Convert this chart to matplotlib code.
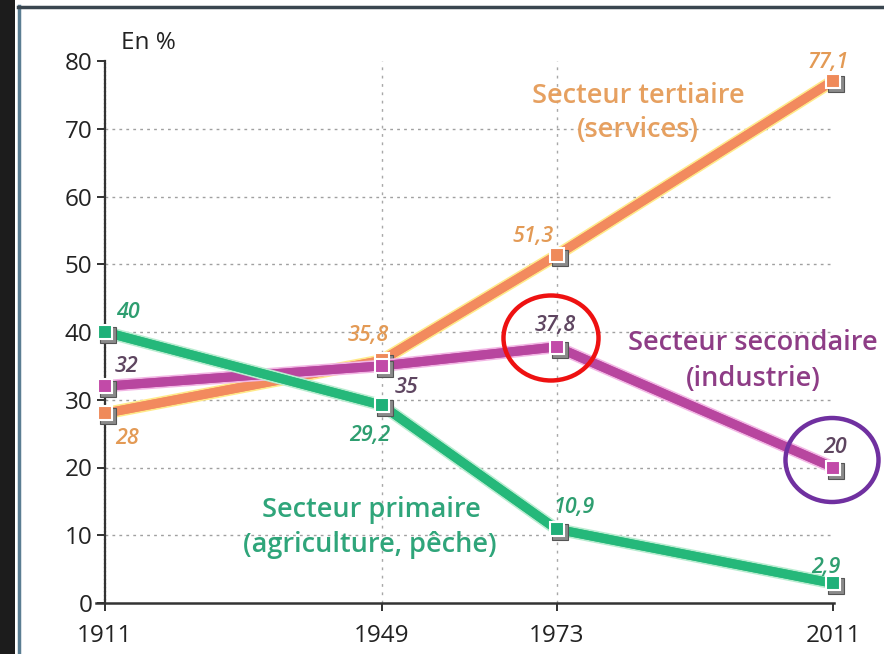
import matplotlib
matplotlib.use("Agg")
import matplotlib.pyplot as plt
import matplotlib.patheffects as pe
from matplotlib.patches import Ellipse, Rectangle
from matplotlib.lines import Line2D
import matplotlib.transforms as mtransforms

years = [1911, 1949, 1973, 2011]
primaire = [40, 29.2, 10.9, 2.9]
secondaire = [32, 35, 37.8, 20]
tertiaire = [28, 35.8, 51.3, 77.1]
yticks = [0, 10, 20, 30, 40, 50, 60, 70, 80]
labels_primaire = ["40", "29,2", "10,9", "2,9"]
labels_secondaire = ["32", "35", "37,8", "20"]
labels_tertiaire = ["28", "35,8", "51,3", "77,1"]

plt.rcParams['font.family'] = ['Open Sans', 'DejaVu Sans']

fig = plt.figure(figsize=(8.84, 6.54), dpi=100)
W, H = 884, 654

# frame decoration
fig.patches.append(Rectangle((0, 0), 15 / W, 1, transform=fig.transFigure,
                             facecolor='#1c1c1c', edgecolor='none', zorder=0))
fig.add_artist(Line2D([19 / W, 19 / W], [0, 1 - 6 / H], transform=fig.transFigure,
                      color='#5a7d92', lw=2.5))
fig.add_artist(Line2D([18 / W, 1], [1 - 7 / H, 1 - 7 / H], transform=fig.transFigure,
                      color='#3a4650', lw=2.5))

x0px, x1px = 95.5, 834
y0px, y1px = 603, 61
ax = fig.add_axes([x0px / W, 1 - y0px / H, (x1px - x0px) / W, (y0px - y1px) / H])
ax.set_xlim(1909.7, 2011.1)
ax.set_ylim(0, 80)
ax.patch.set_alpha(0)

for s in ['top', 'right']:
    ax.spines[s].set_visible(False)
ax.spines['left'].set_position(('data', 1911))
ax.spines['left'].set_linestyle((0, (1.2, 0.6)))
ax.spines['left'].set_linewidth(1.6)
ax.spines['left'].set_color('#333333')
ax.spines['bottom'].set_linewidth(1.8)
ax.spines['bottom'].set_color('#333333')

ax.set_yticks(yticks)
ax.set_yticklabels([str(v) for v in yticks])
ax.set_xticks(years)
ax.set_xticklabels([str(y) for y in years])
ax.tick_params(axis='both', labelsize=17.5, colors='#222222', length=6, width=1.3,
               direction='out')
ax.tick_params(axis='y', pad=3)
ax.tick_params(axis='x', pad=9)

# grid
for v in yticks[1:-1]:
    ax.plot([1911, 2011], [v, v], ls=(0, (2, 3)), color='#a0a0a0', lw=1.0, zorder=1)
for yr in years[1:3]:
    ax.plot([yr, yr], [0, 80], ls=(0, (2, 4)), color='#a8a8a8', lw=1.0, zorder=1)

series = [
    (tertiaire, '#f28a5e', '#ffe98a', '#ef8a5a'),
    (secondaire, '#b8469f', '#f2b6e4', '#c24aa8'),
    (primaire, '#25b87a', '#b8ecd0', '#1fb079'),
]

shadow_tr = mtransforms.offset_copy(ax.transData, fig=fig, x=3, y=-3, units='dots')
for i, (vals, col, halo, mcol) in enumerate(series):
    ax.plot(years, vals, color=col, lw=6.5, solid_capstyle='butt', zorder=3 + i,
            clip_on=False,
            path_effects=[pe.withStroke(linewidth=9, foreground=halo), pe.Normal()])
    ax.plot(years, vals, ls='none', marker='s', ms=11, color='#8a8a8a',
            transform=shadow_tr, zorder=3 + i, mec='#555555', mew=0.8, clip_on=False)
    ax.plot(years, vals, ls='none', marker='s', ms=10.5, color=mcol,
            mec='white', mew=1.5, zorder=3.5 + i, clip_on=False)

offsets_t = [(15.8, -18), (-9.4, 18), (-16.6, 13.7), (-3.6, 13.4)]
offsets_s = [(15.8, 14.4), (18, -15.8), (-0.7, 15.1), (1.4, 14.4)]
offsets_p = [(16.6, 14.4), (-8.6, -22), (13, 15.8), (-5, 11.5)]
tcols = ['#e39a55', '#5e4560', '#2e9e70']
for (vals, labs, offs, tc) in [(tertiaire, labels_tertiaire, offsets_t, tcols[0]),
                               (secondaire, labels_secondaire, offsets_s, tcols[1]),
                               (primaire, labels_primaire, offsets_p, tcols[2])]:
    for yr, v, lab, off in zip(years, vals, labs, offs):
        ax.annotate(lab, (yr, v), xytext=off, textcoords='offset points',
                    ha='center', va='center', fontsize=15.5, style='italic',
                    weight='semibold', color=tc, zorder=10, annotation_clip=False)

def px2data(px, py):
    return ax.transData.inverted().transform((px, H - py))

def put(text, px, py, color, size=19.5):
    x, y = px2data(px, py)
    ax.text(x, y, text, ha='center', va='center', fontsize=size, color=color,
            weight='semibold', zorder=10)

put("Secteur tertiaire", 638, 96, '#e6a060')
put("(services)", 638, 130, '#e6a060')
put("Secteur secondaire", 753, 343, '#8e3d86')
put("(industrie)", 753, 379, '#8e3d86')
put("Secteur primaire", 371, 510, '#2fa57a')
put("(agriculture, pêche)", 370, 545, '#2fa57a')

x, y = px2data(148, 43)
ax.text(x, y, "En %", ha='center', va='center', fontsize=17.5, color='#222222')

# highlight circles
cx, cy = px2data(551, 338)
ax.add_patch(Ellipse((cx, cy), 95 / 7.28, 85 / 6.775, fill=False, edgecolor='#ee1111',
                     lw=3.2, zorder=12, clip_on=False))
cx, cy = px2data(832, 460)
ax.add_patch(Ellipse((cx, cy), 93 / 7.28, 84 / 6.775, fill=False, edgecolor='#7030a0',
                     lw=3.2, zorder=12, clip_on=False))

fig.savefig("out.png", dpi=100)
